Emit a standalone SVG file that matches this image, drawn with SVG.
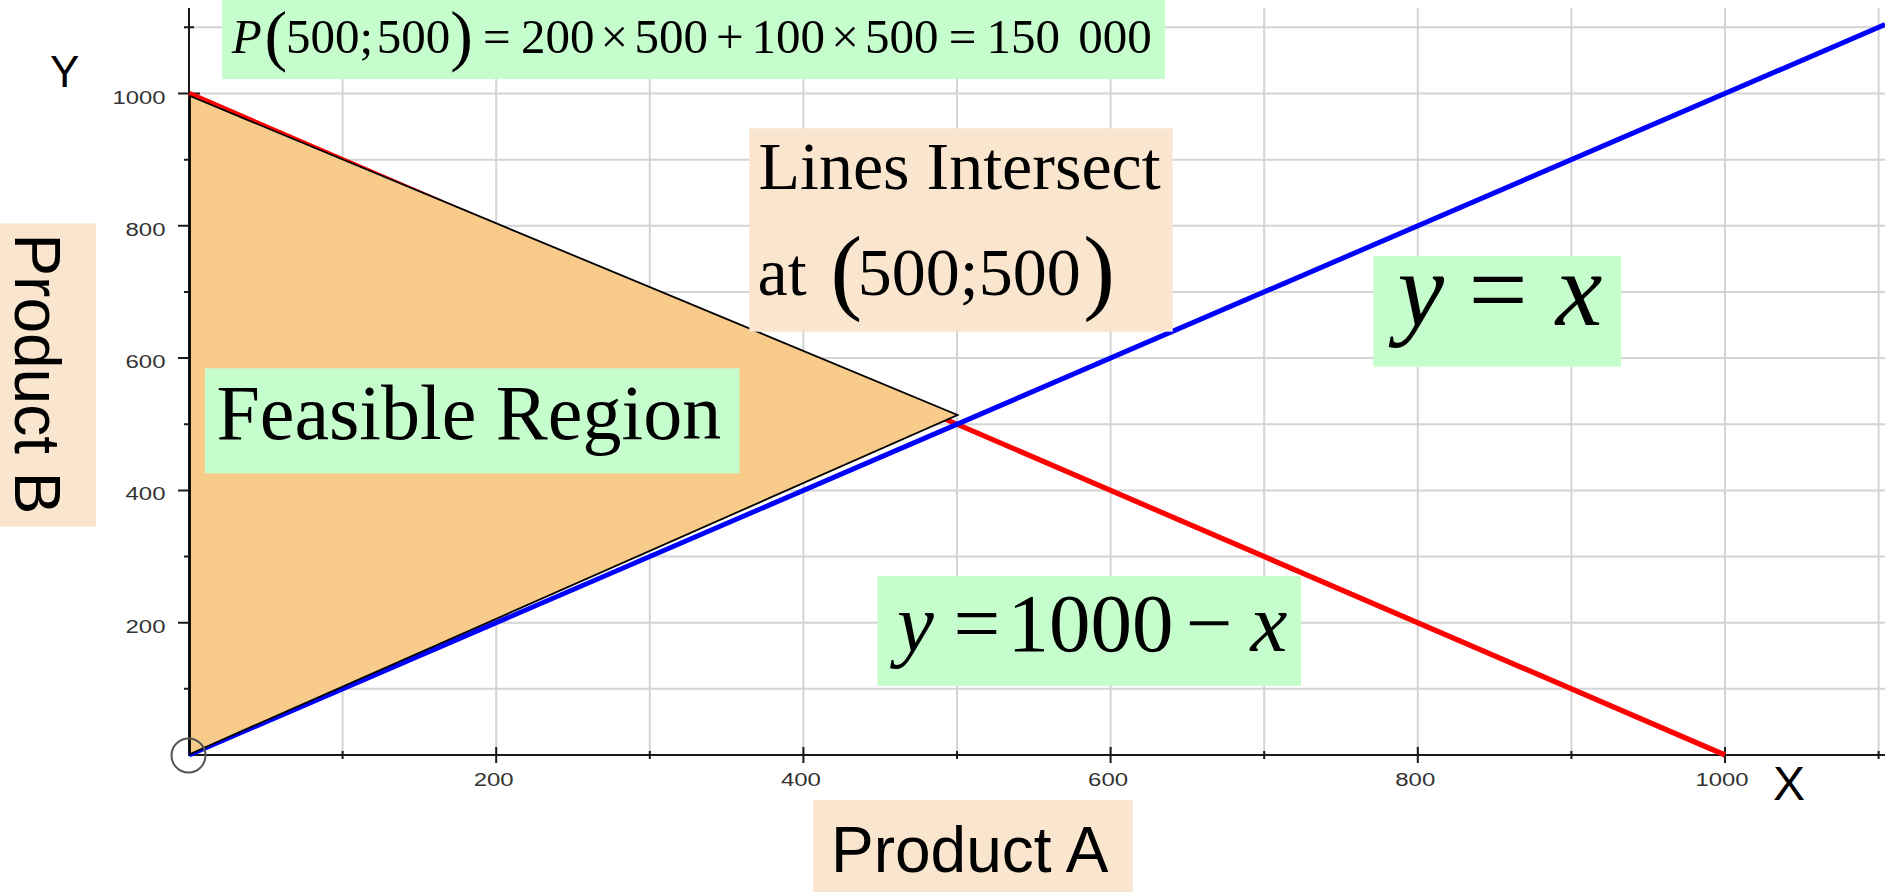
<svg xmlns="http://www.w3.org/2000/svg" width="1885" height="892" viewBox="0 0 1885 892">
<style>
.grid{stroke:#d4d4d4;stroke-width:2;fill:none}
.axis{stroke:#1a1a1a;stroke-width:2;fill:none}
.tl{font-family:"Liberation Sans",Arial,sans-serif;font-size:18px;fill:#333}
.serif{font-family:"Liberation Serif","Times New Roman",serif;fill:#000}
.it{font-style:italic}
.sans{font-family:"Liberation Sans",Arial,sans-serif;fill:#000}
.green{fill:#c5fdcd}
.peach{fill:#fae6cf}
</style>
<rect width="1885" height="892" fill="#fff"/>
<g id="grid" class="grid">
<path d="M342.6 8V755M496.2 8V755M649.8 8V755M803.4 8V755M957 8V755M1110.6 8V755M1264.2 8V755M1417.8 8V755M1571.4 8V755M1725 8V755M1878.6 8V755"/>
<path d="M189 688.85H1885M189 622.7H1885M189 556.55H1885M189 490.4H1885M189 424.25H1885M189 358.1H1885M189 291.95H1885M189 225.8H1885M189 159.65H1885M189 93.5H1885M189 27.35H1885"/>
</g>
<g id="axes" class="axis">
<path d="M189 8V755H1885"/>
<path d="M178 622.7H200M178 490.4H200M178 358.1H200M178 225.8H200M178 93.5H200M184 688.85H194M184 556.55H194M184 424.25H194M184 291.95H194M184 159.65H194M184 27.35H194"/>
<path d="M496.2 747V763M803.4 747V763M1110.6 747V763M1417.8 747V763M1725 747V763M342.6 751V759M649.8 751V759M957 751V759M1264.2 751V759M1571.4 751V759M1878.6 751V759"/>
</g>
<g id="tick-labels" class="tl">
<text x="165.5" y="632.7" text-anchor="end" textLength="40" lengthAdjust="spacingAndGlyphs">200</text>
<text x="165.5" y="500.4" text-anchor="end" textLength="40" lengthAdjust="spacingAndGlyphs">400</text>
<text x="165.5" y="368.1" text-anchor="end" textLength="40" lengthAdjust="spacingAndGlyphs">600</text>
<text x="165.5" y="235.8" text-anchor="end" textLength="40" lengthAdjust="spacingAndGlyphs">800</text>
<text x="165.5" y="104" text-anchor="end" textLength="53" lengthAdjust="spacingAndGlyphs">1000</text>
<text x="493.7" y="786" text-anchor="middle" textLength="40" lengthAdjust="spacingAndGlyphs">200</text>
<text x="800.9" y="786" text-anchor="middle" textLength="40" lengthAdjust="spacingAndGlyphs">400</text>
<text x="1108.1" y="786" text-anchor="middle" textLength="40" lengthAdjust="spacingAndGlyphs">600</text>
<text x="1415.3" y="786" text-anchor="middle" textLength="40" lengthAdjust="spacingAndGlyphs">800</text>
<text x="1722" y="786" text-anchor="middle" textLength="53" lengthAdjust="spacingAndGlyphs">1000</text>
</g>
<g id="connectors">
<line id="line-red" x1="189" y1="93.5" x2="1725" y2="755" stroke="#ff0000" stroke-width="5.2"/>
<line id="line-blue" x1="189" y1="755" x2="1885" y2="24.6" stroke="#0000ff" stroke-width="5"/>
</g>
<g id="feasible-region">
<polygon points="190,96 957.5,415 190,754" fill="#f8cb8a" stroke="#000" stroke-width="1.8" stroke-linejoin="miter"/>
</g>
<g id="origin-marker">
<circle cx="188.5" cy="755.5" r="17" fill="none" stroke="#555" stroke-width="2"/>
</g>
<g id="axis-y-label"><text class="sans" x="50" y="86.7" font-size="44">Y</text></g>
<g id="axis-x-label"><text class="sans" x="1773" y="800" font-size="48">X</text></g>
<g id="product-b">
<rect class="peach" x="0" y="223.3" width="96" height="303.4"/>
<text class="sans" font-size="64" transform="translate(15,233.4) rotate(90)">Product B</text>
</g>
<g id="product-a">
<rect class="peach" x="813.3" y="800" width="319.4" height="92"/>
<text class="sans" x="831" y="872" font-size="64">Product A</text>
</g>
<g id="profit-formula">
<rect class="green" x="222" y="0" width="943" height="79"/>
<text class="serif" y="52.5" font-size="49"><tspan class="it" x="231.7">P</tspan><tspan x="264.5" y="57.7" font-size="68">(</tspan><tspan x="286" y="52.5">500</tspan><tspan x="359.5">;</tspan><tspan x="376.8">500</tspan><tspan x="450.3" y="57.7" font-size="68">)</tspan><tspan x="483.1" y="52.5">=</tspan><tspan x="520.9">200</tspan><tspan x="600.6">×</tspan><tspan x="634.4">500</tspan><tspan x="715.9">+</tspan><tspan x="751.5">100</tspan><tspan x="831.2">×</tspan><tspan x="865">500</tspan><tspan x="948.7">=</tspan><tspan x="986.5">150</tspan><tspan x="1078.3">000</tspan></text>
</g>
<g id="intersect-label">
<rect class="peach" x="749.3" y="128.3" width="423.4" height="203.4"/>
<text class="serif" x="758.5" y="189" font-size="68">Lines Intersect</text>
<text class="serif" y="295" font-size="68"><tspan x="757.5">at</tspan><tspan x="830.4" y="302.2" font-size="95">(</tspan><tspan x="857.8" y="295">500;500</tspan><tspan x="1083.2" y="302.2" font-size="95">)</tspan></text>
</g>
<g id="feasible-label">
<rect class="green" x="205" y="368.3" width="534.4" height="105"/>
<text class="serif" x="216.4" y="439" font-size="78">Feasible Region</text>
</g>
<g id="eq-y-x">
<rect class="green" x="1373.3" y="256" width="247.7" height="110.7"/>
<text class="serif" y="325" font-size="105"><tspan class="it" x="1397.5">y</tspan><tspan x="1468.5">=</tspan><tspan class="it" x="1555.8">x</tspan></text>
</g>
<g id="eq-y-1000-x">
<rect class="green" x="877.3" y="576" width="423.7" height="110"/>
<text class="serif" y="651" font-size="83"><tspan class="it" x="897">y</tspan><tspan x="953.5">=</tspan><tspan x="1007.5">1000</tspan><tspan x="1185.8">−</tspan><tspan class="it" x="1250.5">x</tspan></text>
</g>
</svg>
